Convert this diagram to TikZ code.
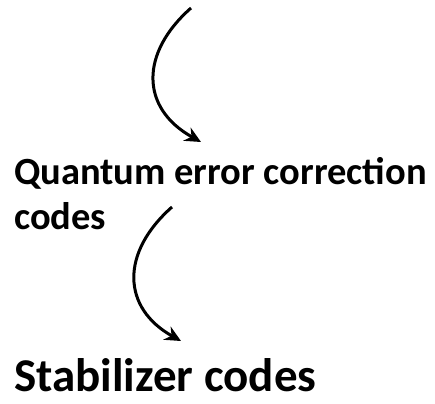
\documentclass[tikz,border=0pt]{standalone}
\usepackage{fontspec}
\setmainfont{Carlito}
\usepackage{tikz}
\usetikzlibrary{arrows.meta}

\tikzset{
  title/.style={anchor=base west,inner sep=0pt,font=\bfseries\fontsize{38.5}{45}\selectfont,align=left},
  bigtitle/.style={anchor=base west,inner sep=0pt,font=\bfseries\fontsize{47}{52}\selectfont},
  flow/.style={line width=3pt,-{Stealth[length=16pt,width=15pt]}}
}

\begin{document}
\begin{tikzpicture}[x=1pt,y=1pt]
    \useasboundingbox (0,0) rectangle (435,403);
    % text
    \node[title] (qecc) at (14,173) {Quantum error correction\\codes};
    \node[bigtitle] (stab) at (14,12) {Stabilizer codes};
    % arrow ends
    \coordinate (a_0) at (191,395);
    \coordinate (a_1) at (201,261);
    \coordinate (b_0) at (172,196);
    \coordinate (b_1) at (181,62);
    % arrows
    \draw[flow] (a_0) .. controls (140,350) and (140,295) .. (a_1);
    \draw[flow] (b_0) .. controls (120,150) and (122,95) .. (b_1);
\end{tikzpicture}
\end{document}
